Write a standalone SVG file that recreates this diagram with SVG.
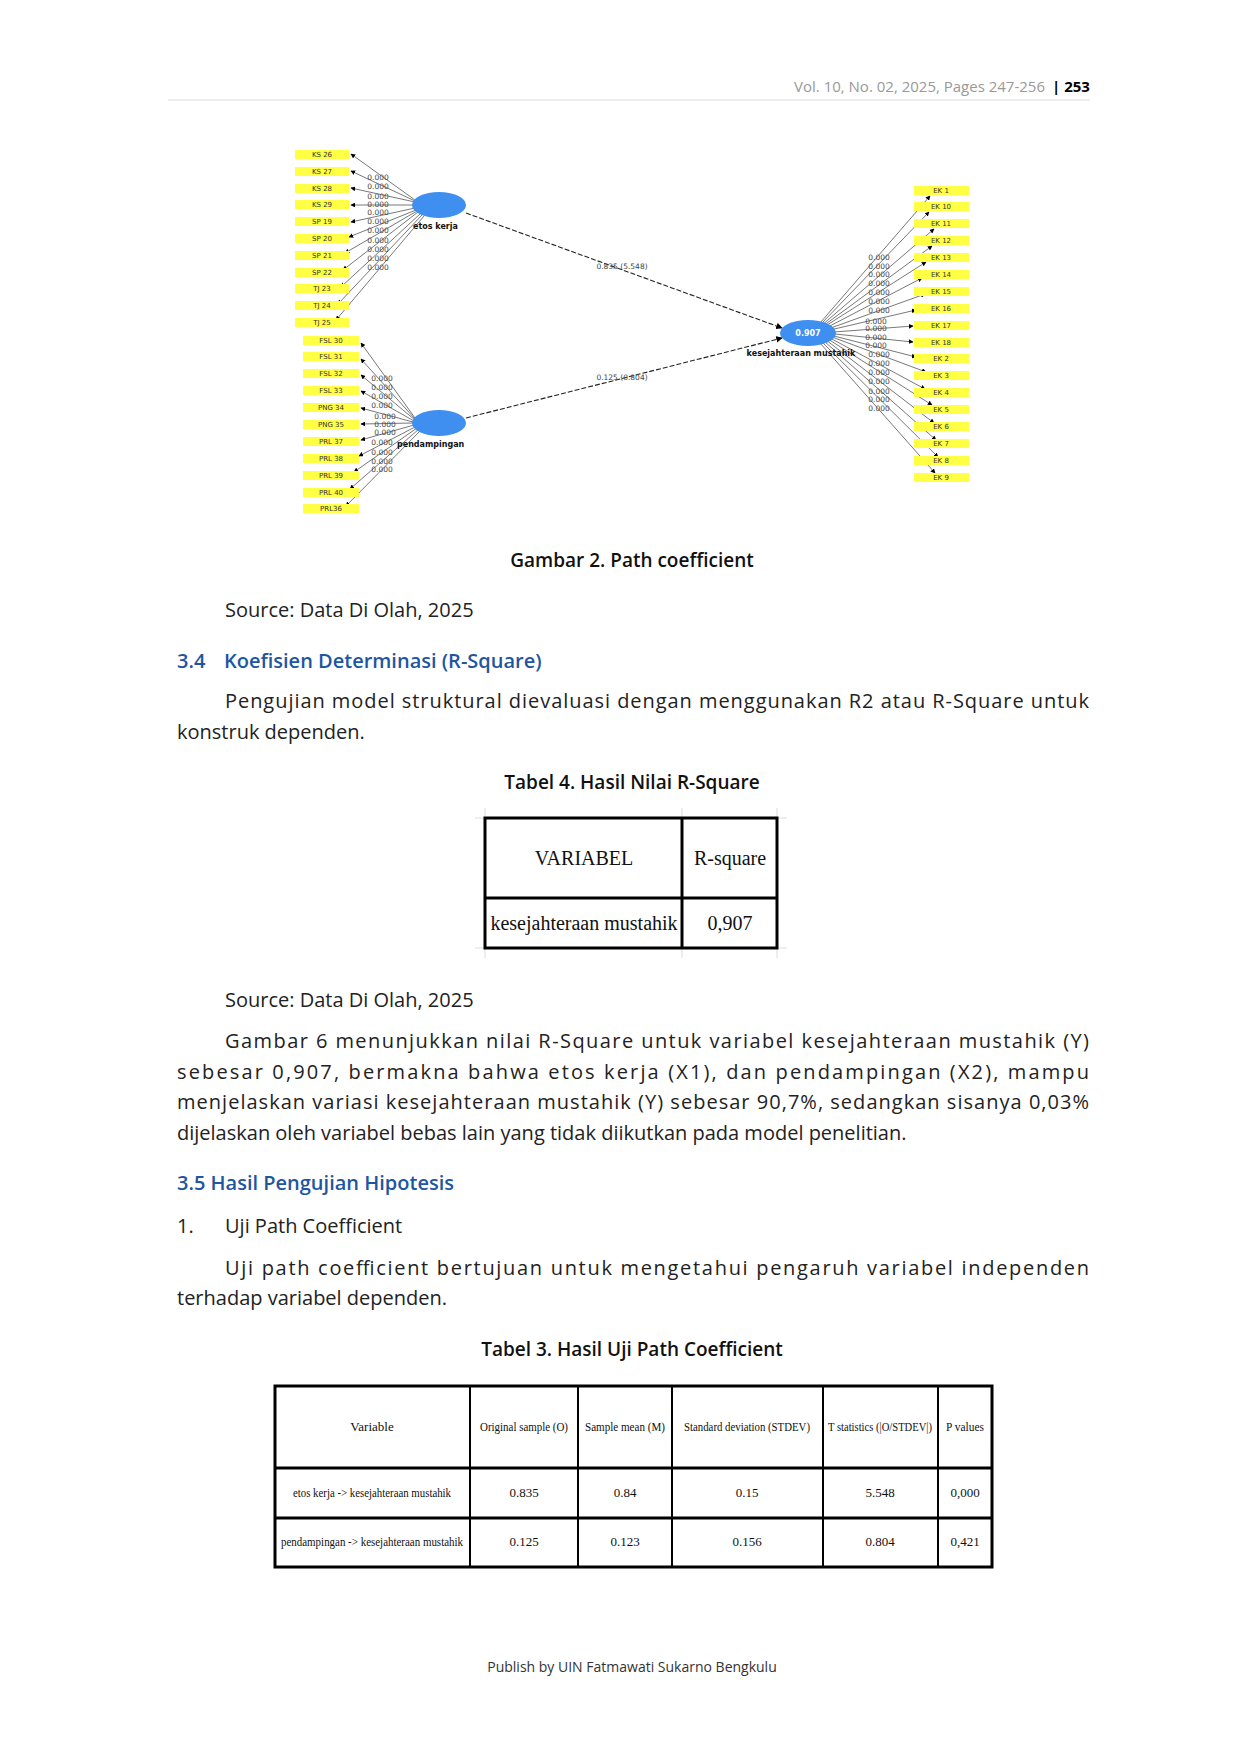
<svg xmlns="http://www.w3.org/2000/svg" width="1240" height="1754" viewBox="0 0 1240 1754">
<style>
.b{font-family:"Open Sans","Noto Sans",sans-serif;font-size:20px;fill:#222}
.h{font-family:"Open Sans","Noto Sans",sans-serif;font-size:20px;font-weight:600;fill:#1f56a0}
.cap{font-family:"Open Sans","Noto Sans",sans-serif;font-size:19px;fill:#111;font-weight:600;text-anchor:middle}
.ind rect{fill:#ffff44}
.ind text{font-family:"DejaVu Sans",sans-serif;font-size:7px;fill:#333;text-anchor:middle}
.ld{font-family:"DejaVu Sans",sans-serif;font-size:7.5px;fill:#444;text-anchor:middle}
.lv{fill:#3f8ff0}
.lvl{font-family:"DejaVu Sans",sans-serif;font-size:8px;font-weight:bold;fill:#111}
.cn line{stroke:#555;stroke-width:0.8;marker-end:url(#a)}
.cn .s{stroke:#222;stroke-width:1.1;stroke-dasharray:5 2}
.tb{fill:none;stroke:#000;stroke-width:3}
.tg{stroke:#ddd;stroke-width:1}
.t4{font-family:"Liberation Serif",serif;font-size:20px;fill:#111;text-anchor:middle}
.t3{font-family:"Liberation Serif",serif;font-size:13px;fill:#111;text-anchor:middle}
</style>
<defs><marker id="a" viewBox="0 0 8 8" refX="7" refY="4" markerWidth="6" markerHeight="6" orient="auto"><path d="M0,0L8,4L0,8z" fill="#000"/></marker></defs>
<rect width="1240" height="1754" fill="#fff"/>
<text x="1045" y="92" font-family="Open Sans,Noto Sans,sans-serif" font-size="15" fill="#999" text-anchor="end">Vol. 10, No. 02, 2025, Pages 247-256</text>
<text x="1052" y="92" font-family="Open Sans,Noto Sans,sans-serif" font-size="15" font-weight="bold" fill="#000">| 253</text>
<line x1="168" y1="100" x2="1090" y2="100" stroke="#ddd" stroke-width="1"/>

<g id="connectors" class="cn">
<line class="s" x1="466" y1="213" x2="782" y2="328"/>
<line class="s" x1="466" y1="418" x2="782" y2="338"/>
<line x1="415" y1="200" x2="351" y2="154"/><line x1="415" y1="201" x2="351" y2="171"/><line x1="415" y1="202" x2="351" y2="188"/><line x1="413" y1="205" x2="351" y2="205"/><line x1="415" y1="208" x2="351" y2="222"/><line x1="416" y1="210" x2="349" y2="237"/><line x1="417" y1="211" x2="345" y2="253"/><line x1="418" y1="212" x2="343" y2="270"/><line x1="420" y1="214" x2="341" y2="287"/><line x1="422" y1="215" x2="338" y2="304"/><line x1="424" y1="216" x2="336" y2="320"/>
<line x1="415" y1="418" x2="361" y2="343"/><line x1="415" y1="419" x2="361" y2="359"/><line x1="415" y1="420" x2="361" y2="375"/><line x1="414" y1="421" x2="361" y2="391"/><line x1="413" y1="422" x2="361" y2="408"/><line x1="413" y1="423" x2="361" y2="424"/><line x1="414" y1="425" x2="361" y2="440"/><line x1="415" y1="427" x2="359" y2="456"/><line x1="417" y1="428" x2="354" y2="472"/><line x1="419" y1="429" x2="350" y2="489"/><line x1="421" y1="430" x2="346" y2="506"/>
<line x1="820" y1="323" x2="930" y2="196"/><line x1="821" y1="324" x2="929" y2="212"/><line x1="822" y1="325" x2="934" y2="229"/><line x1="823" y1="326" x2="932" y2="246"/><line x1="824" y1="327" x2="926" y2="262"/><line x1="826" y1="328" x2="922" y2="278"/><line x1="828" y1="329" x2="925" y2="294"/><line x1="830" y1="330" x2="916" y2="310"/><line x1="834" y1="332" x2="913" y2="326"/><line x1="835" y1="334" x2="913" y2="342"/><line x1="834" y1="336" x2="916" y2="357"/><line x1="832" y1="337" x2="926" y2="372"/><line x1="830" y1="338" x2="925" y2="389"/><line x1="828" y1="339" x2="932" y2="405"/><line x1="826" y1="340" x2="934" y2="423"/><line x1="824" y1="341" x2="936" y2="440"/><line x1="822" y1="342" x2="938" y2="457"/><line x1="820" y1="343" x2="935" y2="473"/>
</g>

<g id="loadings" class="ld">
<text x="378" y="180">0.000</text><text x="378" y="189">0.000</text><text x="378" y="199">0.000</text><text x="378" y="207">0.000</text><text x="378" y="215">0.000</text><text x="378" y="224">0.000</text><text x="378" y="233">0.000</text><text x="378" y="243">0.000</text><text x="378" y="252">0.000</text><text x="378" y="261">0.000</text><text x="378" y="270">0.000</text>
<text x="382" y="381">0.000</text><text x="382" y="390">0.000</text><text x="382" y="399">0.000</text><text x="382" y="408">0.000</text><text x="385" y="419">0.000</text><text x="385" y="427">0.000</text><text x="385" y="435">0.000</text><text x="382" y="445">0.000</text><text x="382" y="455">0.000</text><text x="382" y="464">0.000</text><text x="382" y="472">0.000</text>
<text x="879" y="260">0.000</text><text x="879" y="269">0.000</text><text x="879" y="277">0.000</text><text x="879" y="286">0.000</text><text x="879" y="295">0.000</text><text x="879" y="304">0.000</text><text x="879" y="313">0.000</text><text x="876" y="324">0.000</text><text x="876" y="331">0.000</text><text x="876" y="340">0.000</text><text x="876" y="348">0.000</text><text x="879" y="357">0.000</text><text x="879" y="366">0.000</text><text x="879" y="375">0.000</text><text x="879" y="384">0.000</text><text x="879" y="394">0.000</text><text x="879" y="402">0.000</text><text x="879" y="411">0.000</text>
<text x="622" y="269">0.835 (5.548)</text><text x="622" y="380">0.125 (0.804)</text>
</g>

<g id="etos-kerja"><ellipse class="lv" cx="439" cy="205" rx="27" ry="13"/><text class="lvl" x="413" y="229">etos kerja</text></g>
<g id="pendampingan"><ellipse class="lv" cx="439" cy="423" rx="27" ry="13"/><text class="lvl" x="397" y="447">pendampingan</text></g>
<g id="kesejahteraan"><ellipse class="lv" cx="808" cy="333" rx="28" ry="13"/><text x="808" y="336" font-family="DejaVu Sans,sans-serif" font-size="8" font-weight="bold" fill="#fff" text-anchor="middle">0.907</text><text class="lvl" x="801" y="356" text-anchor="middle">kesejahteraan mustahik</text></g>

<g id="ind-etos" class="ind">
<rect x="295" y="150" width="54" height="9"/><text x="322" y="157">KS 26</text>
<rect x="295" y="167" width="54" height="9"/><text x="322" y="174">KS 27</text>
<rect x="295" y="184" width="54" height="9"/><text x="322" y="191">KS 28</text>
<rect x="295" y="200" width="54" height="9"/><text x="322" y="207">KS 29</text>
<rect x="295" y="217" width="54" height="9"/><text x="322" y="224">SP 19</text>
<rect x="295" y="234" width="54" height="9"/><text x="322" y="241">SP 20</text>
<rect x="295" y="251" width="54" height="9"/><text x="322" y="258">SP 21</text>
<rect x="295" y="268" width="54" height="9"/><text x="322" y="275">SP 22</text>
<rect x="295" y="284" width="54" height="9"/><text x="322" y="291">TJ 23</text>
<rect x="295" y="301" width="54" height="9"/><text x="322" y="308">TJ 24</text>
<rect x="295" y="318" width="54" height="9"/><text x="322" y="325">TJ 25</text>
</g>
<g id="ind-pend" class="ind">
<rect x="303" y="336" width="56" height="9"/><text x="331" y="343">FSL 30</text>
<rect x="303" y="352" width="56" height="9"/><text x="331" y="359">FSL 31</text>
<rect x="303" y="369" width="56" height="9"/><text x="331" y="376">FSL 32</text>
<rect x="303" y="386" width="56" height="9"/><text x="331" y="393">FSL 33</text>
<rect x="303" y="403" width="56" height="9"/><text x="331" y="410">PNG 34</text>
<rect x="303" y="420" width="56" height="9"/><text x="331" y="427">PNG 35</text>
<rect x="303" y="437" width="56" height="9"/><text x="331" y="444">PRL 37</text>
<rect x="303" y="454" width="56" height="9"/><text x="331" y="461">PRL 38</text>
<rect x="303" y="471" width="56" height="9"/><text x="331" y="478">PRL 39</text>
<rect x="303" y="488" width="56" height="9"/><text x="331" y="495">PRL 40</text>
<rect x="303" y="504" width="56" height="9"/><text x="331" y="511">PRL36</text>
</g>
<g id="ind-kes" class="ind">
<rect x="914" y="186" width="55" height="9"/><text x="941" y="193">EK 1</text>
<rect x="914" y="202" width="55" height="9"/><text x="941" y="209">EK 10</text>
<rect x="914" y="219" width="55" height="9"/><text x="941" y="226">EK 11</text>
<rect x="914" y="236" width="55" height="9"/><text x="941" y="243">EK 12</text>
<rect x="914" y="253" width="55" height="9"/><text x="941" y="260">EK 13</text>
<rect x="914" y="270" width="55" height="9"/><text x="941" y="277">EK 14</text>
<rect x="914" y="287" width="55" height="9"/><text x="941" y="294">EK 15</text>
<rect x="914" y="304" width="55" height="9"/><text x="941" y="311">EK 16</text>
<rect x="914" y="321" width="55" height="9"/><text x="941" y="328">EK 17</text>
<rect x="914" y="338" width="55" height="9"/><text x="941" y="345">EK 18</text>
<rect x="914" y="354" width="55" height="9"/><text x="941" y="361">EK 2</text>
<rect x="914" y="371" width="55" height="9"/><text x="941" y="378">EK 3</text>
<rect x="914" y="388" width="55" height="9"/><text x="941" y="395">EK 4</text>
<rect x="914" y="405" width="55" height="9"/><text x="941" y="412">EK 5</text>
<rect x="914" y="422" width="55" height="9"/><text x="941" y="429">EK 6</text>
<rect x="914" y="439" width="55" height="9"/><text x="941" y="446">EK 7</text>
<rect x="914" y="456" width="55" height="9"/><text x="941" y="463">EK 8</text>
<rect x="914" y="473" width="55" height="9"/><text x="941" y="480">EK 9</text>
</g>

<text class="cap" x="632" y="567">Gambar 2. Path coefficient</text>
<text class="b" x="225" y="617">Source: Data Di Olah, 2025</text>
<text class="h" x="177" y="668">3.4</text><text class="h" x="224" y="668">Koefisien Determinasi (R-Square)</text>
<text class="b" x="225" y="708" textLength="864" lengthAdjust="spacing">Pengujian model struktural dievaluasi dengan menggunakan R2 atau R-Square untuk</text>
<text class="b" x="177" y="739">konstruk dependen.</text>
<text class="cap" x="632" y="789">Tabel 4. Hasil Nilai R-Square</text>

<g id="tabel4">
<line class="tg" x1="475" y1="818" x2="787" y2="818"/><line class="tg" x1="475" y1="948" x2="787" y2="948"/><line class="tg" x1="485" y1="808" x2="485" y2="958"/><line class="tg" x1="777" y1="808" x2="777" y2="958"/><line class="tg" x1="682" y1="808" x2="682" y2="958"/>
<rect class="tb" x="485" y="818" width="292" height="130"/>
<line x1="485" y1="898" x2="777" y2="898" stroke="#000" stroke-width="3"/>
<line x1="682" y1="818" x2="682" y2="948" stroke="#000" stroke-width="3"/>
<text class="t4" x="584" y="865">VARIABEL</text><text class="t4" x="730" y="865">R-square</text>
<text class="t4" x="584" y="930">kesejahteraan mustahik</text><text class="t4" x="730" y="930">0,907</text>
</g>

<text class="b" x="225" y="1007">Source: Data Di Olah, 2025</text>
<text class="b" x="225" y="1048" textLength="864" lengthAdjust="spacing">Gambar 6 menunjukkan nilai R-Square untuk variabel kesejahteraan mustahik (Y)</text>
<text class="b" x="177" y="1079" textLength="912" lengthAdjust="spacing">sebesar 0,907, bermakna bahwa etos kerja (X1), dan pendampingan (X2), mampu</text>
<text class="b" x="177" y="1109" textLength="912" lengthAdjust="spacing">menjelaskan variasi kesejahteraan mustahik (Y) sebesar 90,7%, sedangkan sisanya 0,03%</text>
<text class="b" x="177" y="1140">dijelaskan oleh variabel bebas lain yang tidak diikutkan pada model penelitian.</text>
<text class="h" x="177" y="1190">3.5 Hasil Pengujian Hipotesis</text>
<text class="b" x="177" y="1233">1.</text><text class="b" x="225" y="1233">Uji Path Coefficient</text>
<text class="b" x="225" y="1275" textLength="864" lengthAdjust="spacing">Uji path coefficient bertujuan untuk mengetahui pengaruh  variabel independen</text>
<text class="b" x="177" y="1305">terhadap variabel dependen.</text>
<text class="cap" x="632" y="1356">Tabel 3. Hasil Uji Path Coefficient</text>

<g id="tabel3">
<rect class="tb" x="275" y="1386" width="717" height="181"/>
<line x1="275" y1="1468" x2="992" y2="1468" stroke="#000" stroke-width="3"/>
<line x1="275" y1="1518" x2="992" y2="1518" stroke="#000" stroke-width="3"/>
<g stroke="#000" stroke-width="2"><line x1="470" y1="1386" x2="470" y2="1567"/><line x1="578" y1="1386" x2="578" y2="1567"/><line x1="672" y1="1386" x2="672" y2="1567"/><line x1="823" y1="1386" x2="823" y2="1567"/><line x1="938" y1="1386" x2="938" y2="1567"/></g>
<text class="t3" x="372" y="1431">Variable</text>
<text class="t3" x="524" y="1431" textLength="88" lengthAdjust="spacingAndGlyphs">Original sample (O)</text>
<text class="t3" x="625" y="1431" textLength="80" lengthAdjust="spacingAndGlyphs">Sample mean (M)</text>
<text class="t3" x="747" y="1431" textLength="126" lengthAdjust="spacingAndGlyphs">Standard deviation (STDEV)</text>
<text class="t3" x="880" y="1431" textLength="104" lengthAdjust="spacingAndGlyphs">T statistics (|O/STDEV|)</text>
<text class="t3" x="965" y="1431" textLength="38" lengthAdjust="spacingAndGlyphs">P values</text>
<text class="t3" x="372" y="1497" textLength="158" lengthAdjust="spacingAndGlyphs">etos kerja -&gt; kesejahteraan mustahik</text>
<text class="t3" x="524" y="1497">0.835</text><text class="t3" x="625" y="1497">0.84</text><text class="t3" x="747" y="1497">0.15</text><text class="t3" x="880" y="1497">5.548</text><text class="t3" x="965" y="1497">0,000</text>
<text class="t3" x="372" y="1546" textLength="182" lengthAdjust="spacingAndGlyphs">pendampingan -&gt; kesejahteraan mustahik</text>
<text class="t3" x="524" y="1546">0.125</text><text class="t3" x="625" y="1546">0.123</text><text class="t3" x="747" y="1546">0.156</text><text class="t3" x="880" y="1546">0.804</text><text class="t3" x="965" y="1546">0,421</text>
</g>

<text x="632" y="1672" font-family="Open Sans,Noto Sans,sans-serif" font-size="14" fill="#333" text-anchor="middle">Publish by UIN Fatmawati Sukarno Bengkulu</text>
</svg>
